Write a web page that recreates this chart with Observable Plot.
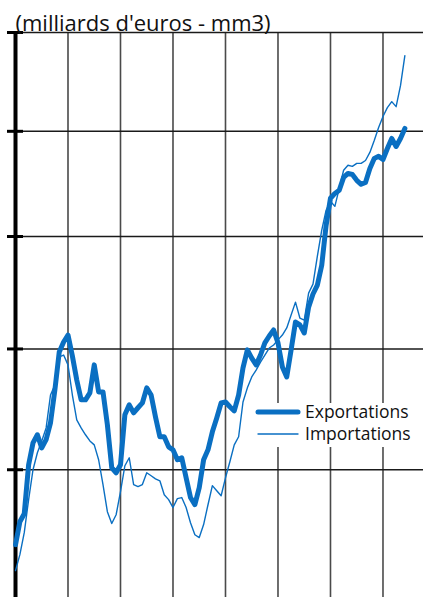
<!DOCTYPE html>
<html>
<head>
<meta charset="utf-8">
<script src="https://cdn.jsdelivr.net/npm/d3@7"></script>
<script src="https://cdn.jsdelivr.net/npm/@observablehq/plot@0.6"></script>
<style>
  html, body { margin: 0; padding: 0; background: #fff; overflow: hidden; }
  #chart svg { display: block; }
</style>
</head>
<body>
<div id="chart"></div>
<script>
// Monthly index (0 = first month of the first year shown)
const months = d3.range(90);
// Exportations, milliards d'euros (mm3)
const exportations = [
  62.08, 62.96, 63.27, 65.20, 66.08, 66.41, 65.88, 66.21, 66.90, 68.26,
  69.87, 70.30, 70.60, 69.70, 68.68, 67.85, 67.85, 68.14, 69.32, 68.18,
  68.18, 66.82, 65.08, 64.88, 65.20, 67.23, 67.64, 67.31, 67.52, 67.72,
  68.35, 68.05, 67.14, 66.33, 66.33, 65.92, 65.80, 65.40, 65.48, 64.68,
  63.90, 63.62, 64.29, 65.40, 65.80, 66.53, 67.10, 67.72, 67.76, 67.56,
  67.39, 68.05, 69.19, 69.96, 69.61, 69.32, 69.74, 70.26, 70.56, 70.82,
  70.26, 69.23, 68.81, 69.96, 71.17, 71.04, 70.69, 71.82, 72.40, 72.80,
  73.69, 75.52, 76.78, 77.01, 77.16, 77.77, 77.96, 77.91, 77.63, 77.44,
  77.53, 78.20, 78.68, 78.78, 78.63, 79.16, 79.65, 79.26, 79.65, 80.14
];
// Importations, milliards d'euros (mm3)
const importations = [
  61.10, 61.70, 62.54, 63.82, 65.00, 65.68, 66.16, 66.69, 68.05, 68.47,
  69.66, 69.74, 69.32, 68.05, 67.02, 66.69, 66.41, 66.16, 66.00, 65.40,
  64.41, 63.35, 62.89, 63.23, 64.13, 65.16, 65.48, 64.41, 64.33, 64.41,
  64.88, 64.76, 64.64, 64.56, 64.01, 63.82, 63.51, 63.86, 63.90, 63.51,
  62.92, 62.46, 62.35, 62.85, 63.62, 64.37, 64.17, 63.97, 64.68, 65.32,
  66.00, 66.33, 67.76, 68.35, 68.81, 69.10, 69.44, 69.74, 70.04, 70.17,
  70.39, 70.60, 70.91, 71.47, 72.04, 71.34, 71.25, 72.44, 72.84, 74.10,
  75.29, 76.22, 76.64, 76.40, 77.25, 78.11, 78.35, 78.30, 78.44, 78.44,
  78.58, 78.97, 79.55, 80.19, 80.73, 81.17, 81.47, 81.22, 82.27, 83.80
];
const yTicks = [65, 70, 75, 80, 85];
const yearTicks = [12, 24, 36, 48, 60, 72, 84];
const seriesNames = ["Exportations", "Importations"];
const titleText = "(milliards d'euros - mm3)";

const data = months.map(i => ({ i, exp: exportations[i], imp: importations[i] }));
const blue = "#0a6fc2";
const font = "'Open Sans', 'Noto Sans', sans-serif";

const plot = Plot.plot({
  width: 423,
  height: 597,
  marginTop: 32,
  marginLeft: 15,
  marginRight: 0,
  marginBottom: 0,
  style: { fontFamily: font, background: "#fff" },
  x: { domain: [0, 93.26], axis: null },
  y: { type: "log", domain: [60.1, 85], axis: null },
  marks: [
    Plot.ruleX(yearTicks, { stroke: "#4a4a4a", strokeWidth: 1.6 }),
    Plot.ruleY(yTicks, { x1: -1.83, x2: 93.26, stroke: "#1a1a1a", strokeWidth: 1.6 }),
    Plot.ruleY(yTicks, { x1: -1.83, x2: 1.83, stroke: "#000", strokeWidth: 3 }),
    Plot.ruleX([0], { stroke: "#000", strokeWidth: 4 }),
    Plot.line(data, { x: "i", y: "imp", stroke: blue, strokeWidth: 1.4 }),
    Plot.line(data, { x: "i", y: "exp", stroke: blue, strokeWidth: 5, strokeLinejoin: "round" }),
    Plot.text([titleText], {
      frameAnchor: "top-left", textAnchor: "start", lineAnchor: "bottom",
      dy: -2, fontSize: 22, fill: "#111"
    })
  ]
});

document.getElementById("chart").appendChild(plot);

// Legend with white background, overlapping the chart (bottom right)
const svg = d3.select(plot);
const lg = svg.append("g").attr("transform", "translate(255,403)");
lg.append("rect").attr("x", 0).attr("y", 0).attr("width", 168).attr("height", 44).attr("fill", "#fff");
const items = [
  { name: seriesNames[0], w: 5, y: 9 },
  { name: seriesNames[1], w: 1.4, y: 31 }
];
items.forEach(it => {
  lg.append("line").attr("x1", 3).attr("x2", 43).attr("y1", it.y).attr("y2", it.y)
    .attr("stroke", blue).attr("stroke-width", it.w).attr("stroke-linecap", "round");
  lg.append("text").attr("x", 50).attr("y", it.y + 6)
    .attr("text-anchor", "start")
    .attr("font-size", 17.5).attr("fill", "#111")
    .attr("font-family", font)
    .text(it.name);
});
</script>
</body>
</html>
